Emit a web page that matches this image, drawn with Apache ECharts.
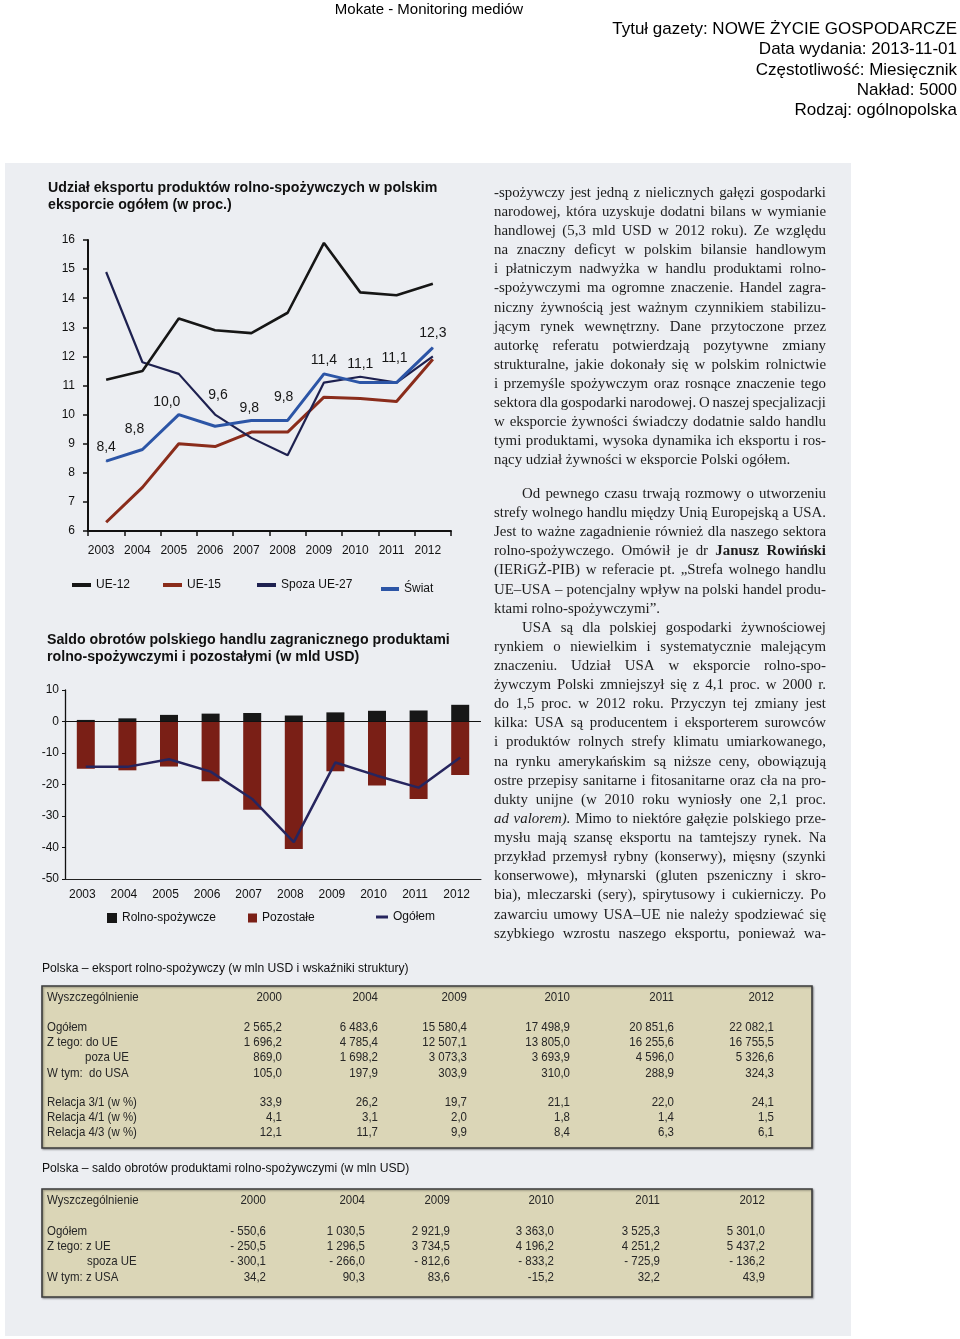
<!DOCTYPE html>
<html><head><meta charset="utf-8">
<script src="https://cdn.jsdelivr.net/npm/echarts@6/dist/echarts.min.js"></script>
<style>html,body{margin:0;padding:0;background:#fff}#c{width:960px;height:1339px}</style>
</head><body><div id="c"></div>
<script>
// ---------------- DATA ----------------
const years = ['2003','2004','2005','2006','2007','2008','2009','2010','2011','2012'];
// Chart 1: share of agri-food exports in total exports (%)
const ue12  = [11.2, 11.5, 13.3, 12.9, 12.8, 13.5, 15.9, 14.2, 14.1, 14.5];
const ue15  = [6.3, 7.5, 9.0, 8.9, 9.4, 9.4, 10.6, 10.55, 10.45, 11.9];
const spoza = [14.9, 11.8, 11.4, 10.0, 9.2, 8.6, 11.1, 11.3, 11.1, 12.0];
const swiat = [8.4, 8.8, 10.0, 9.6, 9.8, 9.8, 11.4, 11.1, 11.1, 12.3];
// Chart 2: trade balance (bn USD)
const rolno     = [0.5, 1.0, 2.1, 2.5, 2.7, 1.9, 2.9, 3.4, 3.5, 5.3];
const pozostale = [-15.0, -15.5, -14.3, -19.0, -28.0, -40.5, -15.8, -20.3, -24.6, -17.0];
const ogolem    = [-14.4, -14.4, -12.0, -15.9, -24.6, -38.3, -13.0, -17.2, -21.0, -11.4];

// Tables
const tableYears = ['2000','2004','2009','2010','2011','2012'];
const exportLabels = ['Ogółem','Z tego: do UE','poza UE','W tym:  do USA'];
const exportValues = [
  ['2 565,2','6 483,6','15 580,4','17 498,9','20 851,6','22 082,1'],
  ['1 696,2','4 785,4','12 507,1','13 805,0','16 255,6','16 755,5'],
  ['869,0','1 698,2','3 073,3','3 693,9','4 596,0','5 326,6'],
  ['105,0','197,9','303,9','310,0','288,9','324,3']
];
const relLabels = ['Relacja 3/1 (w %)','Relacja 4/1 (w %)','Relacja 4/3 (w %)'];
const relValues = [
  ['33,9','26,2','19,7','21,1','22,0','24,1'],
  ['4,1','3,1','2,0','1,8','1,4','1,5'],
  ['12,1','11,7','9,9','8,4','6,3','6,1']
];
const saldoLabels = ['Ogółem','Z tego: z UE','spoza UE','W tym: z USA'];
const saldoValues = [
  ['- 550,6','1 030,5','2 921,9','3 363,0','3 525,3','5 301,0'],
  ['- 250,5','1 296,5','3 734,5','4 196,2','4 251,2','5 437,2'],
  ['- 300,1','- 266,0','- 812,6','- 833,2','- 725,9','- 136,2'],
  ['34,2','90,3','83,6','-15,2','32,2','43,9']
];

// Header texts
const headerCenter = 'Mokate - Monitoring mediów';
const headerRight = ['Tytuł gazety: NOWE ŻYCIE GOSPODARCZE','Data wydania: 2013-11-01','Częstotliwość: Miesięcznik','Nakład: 5000','Rodzaj: ogólnopolska'];

// Article text ('>' = paragraph indent, '|' at end = last line of paragraph, '*' bold word, '_' italic word)
const article1 = [
  '-spożywczy jest jedną z nielicznych gałęzi gospodarki',
  'narodowej, która uzyskuje dodatni bilans w wymianie',
  'handlowej (5,3 mld USD w 2012 roku). Ze względu',
  'na znaczny deficyt w polskim bilansie handlowym',
  'i płatniczym nadwyżka w handlu produktami rolno-',
  '-spożywczymi ma ogromne znaczenie. Handel zagra-',
  'niczny żywnością jest ważnym czynnikiem stabilizu-',
  'jącym rynek wewnętrzny. Dane przytoczone przez',
  'autorkę referatu potwierdzają pozytywne zmiany',
  'strukturalne, jakie dokonały się w polskim rolnictwie',
  'i przemyśle spożywczym oraz rosnące znaczenie tego',
  'sektora dla gospodarki narodowej. O naszej specjalizacji',
  'w eksporcie żywności świadczy dodatnie saldo handlu',
  'tymi produktami, wysoka dynamika ich eksportu i ros-',
  'nący udział żywności w eksporcie Polski ogółem.|'
];
const article2 = [
  '>Od pewnego czasu trwają rozmowy o utworzeniu',
  'strefy wolnego handlu między Unią Europejską a USA.',
  'Jest to ważne zagadnienie również dla naszego sektora',
  'rolno-spożywczego. Omówił je dr *Janusz *Rowiński',
  '(IERiGŻ-PIB) w referacie pt. „Strefa wolnego handlu',
  'UE–USA – potencjalny wpływ na polski handel produ-',
  'ktami rolno-spożywczymi”.|',
  '>USA są dla polskiej gospodarki żywnościowej',
  'rynkiem o niewielkim i systematycznie malejącym',
  'znaczeniu. Udział USA w eksporcie rolno-spo-',
  'żywczym Polski zmniejszył się z 4,1 proc. w 2000 r.',
  'do 1,5 proc. w 2012 roku. Przyczyn tej zmiany jest',
  'kilka: USA są producentem i eksporterem surowców',
  'i produktów rolnych strefy klimatu umiarkowanego,',
  'na rynku amerykańskim są niższe ceny, obowiązują',
  'ostre przepisy sanitarne i fitosanitarne oraz cła na pro-',
  'dukty unijne (w 2010 roku wyniosły one 2,1 proc.',
  '_ad _valorem). Mimo to niektóre gałęzie polskiego prze-',
  'mysłu mają szansę eksportu na tamtejszy rynek. Na',
  'przykład przemysł rybny (konserwy), mięsny (szynki',
  'konserwowe), młynarski (gluten pszeniczny i skro-',
  'bia), mleczarski (sery), spirytusowy i cukierniczy. Po',
  'zawarciu umowy USA–UE nie należy spodziewać się',
  'szybkiego wzrostu naszego eksportu, ponieważ wa-'
];

// ---------------- STYLE ----------------
const SANS = '"Liberation Sans", Arial, Helvetica, sans-serif';
const SERIF = '"Liberation Serif", "Times New Roman", "DejaVu Serif", serif';
const C = { ue12:'#161616', ue15:'#8a2c1b', spoza:'#1e2150', swiat:'#2c55a6',
            rolno:'#171717', poz:'#7a1f16', og:'#26255e' };
const labelNudges = [[0,-2],[-8,-8],[-12,0],[3,-19],[-2,0],[-4,-11],[0,-1],[0,-6],[-2,-12],[0,-2]];

// ---------------- HELPERS ----------------
function txt(x, y, text, o) {
  o = o || {};
  const st = {
    text: text, fill: o.fill || '#111', fontSize: o.size || 13, fontFamily: o.family || SANS,
    fontWeight: o.weight || 'normal', fontStyle: o.style || 'normal',
    align: o.align || 'left', verticalAlign: 'middle',
    textAlign: o.align || 'left', textVerticalAlign: 'middle'
  };
  const el = { type: 'text', x: x, y: y, silent: true, z: 5, style: st };
  if (o.sx) el.scaleX = o.sx;
  return el;
}
const mctx = document.createElement('canvas').getContext('2d');
function measure(t, size, weight, style, fam) {
  mctx.font = style + ' ' + weight + ' ' + size + 'px ' + fam;
  return mctx.measureText(t).width;
}
function parseLine(raw) {
  let s = raw, indent = false, last = false;
  if (s[0] === '>') { indent = true; s = s.slice(1); }
  if (s[s.length-1] === '|') { last = true; s = s.slice(0, -1); }
  const toks = s.split(' ').map(t => {
    if (t[0] === '*') return { t: t.slice(1), w: 'bold', s: 'normal' };
    if (t[0] === '_') return { t: t.slice(1), w: 'normal', s: 'italic' };
    return { t: t, w: 'normal', s: 'normal' };
  });
  return { toks, indent, last };
}
const COL_X0 = 494, COL_X1 = 826, INDENT = 28;
function fitSize(blocks) {
  const base = 15;
  let worst = 0;
  blocks.forEach(lines => lines.forEach(raw => {
    const p = parseLine(raw);
    if (p.last) return;
    const total = p.toks.reduce((a, tk) => a + measure(tk.t, base, tk.w, tk.s, SERIF), 0);
    const sp = measure(' ', base, 'normal', 'normal', SERIF);
    const need = total + 0.75 * sp * (p.toks.length - 1);
    const avail = COL_X1 - COL_X0 - (p.indent ? INDENT : 0);
    worst = Math.max(worst, need / avail);
  }));
  return Math.min(15.5, base / worst);
}
function layoutBlock(lines, yStart, step, size) {
  const els = [];
  lines.forEach((raw, i) => {
    const p = parseLine(raw);
    const x0 = COL_X0 + (p.indent ? INDENT : 0);
    const avail = COL_X1 - x0;
    p.toks.forEach(tk => tk.width = measure(tk.t, size, tk.w, tk.s, SERIF));
    const sp = measure(' ', size, 'normal', 'normal', SERIF);
    const total = p.toks.reduce((a, tk) => a + tk.width, 0);
    const gap = (p.last || p.toks.length < 2) ? sp : (avail - total) / (p.toks.length - 1);
    let x = x0;
    const y = yStart + i * step;
    p.toks.forEach(tk => {
      els.push(txt(x, y, tk.t, { size: size, family: SERIF, weight: tk.w, style: tk.s, fill: '#1c1c1c' }));
      x += tk.width + gap;
    });
  });
  return els;
}
function tableBlock(cfg) {
  const els = [];
  els.push({ type: 'rect', silent: true, z: 2,
    shape: { x: cfg.x, y: cfg.y, width: cfg.w, height: cfg.h },
    style: { fill: '#dbd6b7', stroke: '#3c3c3c', lineWidth: 1.6,
             shadowColor: 'rgba(0,0,0,0.35)', shadowBlur: 2, shadowOffsetX: 1, shadowOffsetY: 1 } });
  els.push(txt(cfg.x, cfg.captionY, cfg.caption, { size: 13.5, fill: '#111', sx: 0.9 }));
  const tf = { size: 13.5, fill: '#262626', sx: 0.85 };
  els.push(txt(cfg.x + 5, cfg.headY, 'Wyszczególnienie', tf));
  tableYears.forEach((yr, j) => els.push(txt(cfg.cols[j], cfg.headY, yr, Object.assign({ align: 'right' }, tf))));
  cfg.groups.forEach(g => {
    g.labels.forEach((lab, r) => {
      const y = g.y0 + r * 15.3;
      const indent = g.indent && g.indent[r] ? g.indent[r] : 0;
      els.push(txt(cfg.x + 5 + indent, y, lab, tf));
      g.values[r].forEach((v, j) => els.push(txt(cfg.cols[j], y, v, Object.assign({ align: 'right' }, tf))));
    });
  });
  return els;
}

// ---------------- GRAPHIC ----------------
const graphics = [];
graphics.push({ type: 'rect', silent: true, z: -10, shape: { x: 5, y: 163, width: 846, height: 1173 }, style: { fill: '#eceef2' } });
graphics.push(txt(429, 10, headerCenter, { size: 15, align: 'center', fill: '#000' }));
headerRight.forEach((t, i) => graphics.push(txt(957, 29.5 + i * 20.2, t, { size: 17, align: 'right', fill: '#000' })));
// chart titles
graphics.push(txt(48, 188, 'Udział eksportu produktów rolno-spożywczych w polskim', { size: 14.2, weight: 'bold', fill: '#111' }));
graphics.push(txt(48, 205, 'eksporcie ogółem (w proc.)', { size: 14.2, weight: 'bold', fill: '#111' }));
graphics.push(txt(47, 640, 'Saldo obrotów polskiego handlu zagranicznego produktami', { size: 14.2, weight: 'bold', fill: '#111' }));
graphics.push(txt(47, 657, 'rolno-spożywczymi i pozostałymi (w mld USD)', { size: 14.2, weight: 'bold', fill: '#111' }));
// article
const artSize = fitSize([article1, article2]);
layoutBlock(article1, 193, 19.1, artSize).forEach(e => graphics.push(e));
layoutBlock(article2, 494, 19.12, artSize).forEach(e => graphics.push(e));
// tables
tableBlock({ x: 42, y: 986, w: 770, h: 162, captionY: 968,
  caption: 'Polska – eksport rolno-spożywczy (w mln USD i wskaźniki struktury)',
  headY: 997, cols: [282, 378, 467, 570, 674, 774],
  groups: [ { labels: exportLabels, values: exportValues, y0: 1027, indent: [0, 0, 38, 0] },
            { labels: relLabels, values: relValues, y0: 1102 } ] }).forEach(e => graphics.push(e));
tableBlock({ x: 42, y: 1189, w: 770, h: 108, captionY: 1168,
  caption: 'Polska – saldo obrotów produktami rolno-spożywczymi (w mln USD)',
  headY: 1200, cols: [266, 365, 450, 554, 660, 765],
  groups: [ { labels: saldoLabels, values: saldoValues, y0: 1231, indent: [0, 0, 40, 0] } ] }).forEach(e => graphics.push(e));

// ---------------- CHART ----------------
const chart = echarts.init(document.getElementById('c'), null, { renderer: 'canvas', width: 960, height: 1339 });
const axisTxt = { color: '#111', fontSize: 12, fontFamily: SANS };
function leg(name, left, cy, w, h, icon) {
  return { data: [name], left: left, top: cy - 7, padding: 0, icon: icon || 'rect', itemWidth: w, itemHeight: h,
    selectedMode: false, textStyle: { color: '#111', fontSize: 12, fontFamily: SANS, lineHeight: 14 } };
}
const option = {
  animation: false,
  backgroundColor: 'transparent',
  graphic: { elements: graphics },
  legend: [
    leg('UE-12', 72, 585, 19, 4),
    leg('UE-15', 163, 585, 19, 4),
    leg('Spoza UE-27', 257, 585, 19, 4),
    leg('Świat', 381, 589, 18, 4),
    leg('Rolno-spożywcze', 107, 918, 10, 10),
    leg('Pozostałe', 248, 918, 9, 9),
    leg('Ogółem', 376, 917, 12, 3)
  ],
  grid: [
    { left: 88, top: 240, width: 363, height: 291 },
    { left: 65, top: 690, width: 416, height: 189 }
  ],
  xAxis: [
    { gridIndex: 0, type: 'category', data: years, boundaryGap: true,
      axisLine: { lineStyle: { color: '#111', width: 2 } },
      axisTick: { show: true, length: 5, lineStyle: { color: '#111', width: 1.5 } },
      axisLabel: Object.assign({ margin: 14, interval: 0, padding: [0, 10, 0, 0] }, axisTxt) },
    { gridIndex: 1, type: 'category', data: years, boundaryGap: true,
      axisLine: { onZero: false, lineStyle: { color: '#222', width: 1 } },
      axisTick: { show: false },
      axisLabel: Object.assign({ margin: 10, interval: 0, padding: [0, 7, 0, 0], fontSize: 12.5 }, axisTxt) }
  ],
  yAxis: [
    { gridIndex: 0, type: 'value', min: 6, max: 16, interval: 1,
      axisLine: { show: true, lineStyle: { color: '#111', width: 2 } },
      axisTick: { show: true, length: 5, lineStyle: { color: '#111', width: 1.5 } },
      splitLine: { show: false },
      axisLabel: Object.assign({ margin: 13 }, axisTxt) },
    { gridIndex: 1, type: 'value', min: -50, max: 10, interval: 10,
      axisLine: { show: true, lineStyle: { color: '#111', width: 1.3 } },
      axisTick: { show: true, length: 3, lineStyle: { color: '#111', width: 1 } },
      splitLine: { show: false },
      axisLabel: Object.assign({ margin: 6, fontSize: 12.5 }, axisTxt) }
  ],
  series: [
    { name: 'UE-15', type: 'line', xAxisIndex: 0, yAxisIndex: 0, data: ue15, symbol: 'none', z: 3,
      lineStyle: { color: C.ue15, width: 3 }, itemStyle: { color: C.ue15 } },
    { name: 'Spoza UE-27', type: 'line', xAxisIndex: 0, yAxisIndex: 0, data: spoza, symbol: 'none', z: 4,
      lineStyle: { color: C.spoza, width: 2.2 }, itemStyle: { color: C.spoza } },
    { name: 'UE-12', type: 'line', xAxisIndex: 0, yAxisIndex: 0, data: ue12, symbol: 'none', z: 5,
      lineStyle: { color: C.ue12, width: 2.6 }, itemStyle: { color: C.ue12 } },
    { name: 'Świat', type: 'line', xAxisIndex: 0, yAxisIndex: 0, z: 6,
      data: swiat.map((v, i) => ({ value: v, label: { offset: labelNudges[i] } })),
      symbol: 'circle', symbolSize: 1, showSymbol: true,
      lineStyle: { color: C.swiat, width: 3 }, itemStyle: { color: C.swiat },
      label: { show: true, position: 'top', distance: 5, color: '#161616', fontSize: 14, fontFamily: SANS,
               formatter: p => p.value.toFixed(1).replace('.', ',') } },
    { name: 'Rolno-spożywcze', type: 'bar', xAxisIndex: 1, yAxisIndex: 1, stack: 'saldo', barWidth: 18,
      data: rolno, itemStyle: { color: C.rolno }, z: 2,
      markLine: { silent: true, symbol: 'none', label: { show: false },
                  lineStyle: { color: '#111', width: 1, type: 'solid' }, data: [{ yAxis: 0 }] } },
    { name: 'Pozostałe', type: 'bar', xAxisIndex: 1, yAxisIndex: 1, stack: 'saldo', barWidth: 18,
      data: pozostale, itemStyle: { color: C.poz }, z: 2 },
    { name: 'Ogółem', type: 'line', xAxisIndex: 1, yAxisIndex: 1, data: ogolem, symbol: 'none', z: 5,
      lineStyle: { color: C.og, width: 2.5 }, itemStyle: { color: C.og } }
  ]
};
chart.setOption(option);
</script>
</body></html>
